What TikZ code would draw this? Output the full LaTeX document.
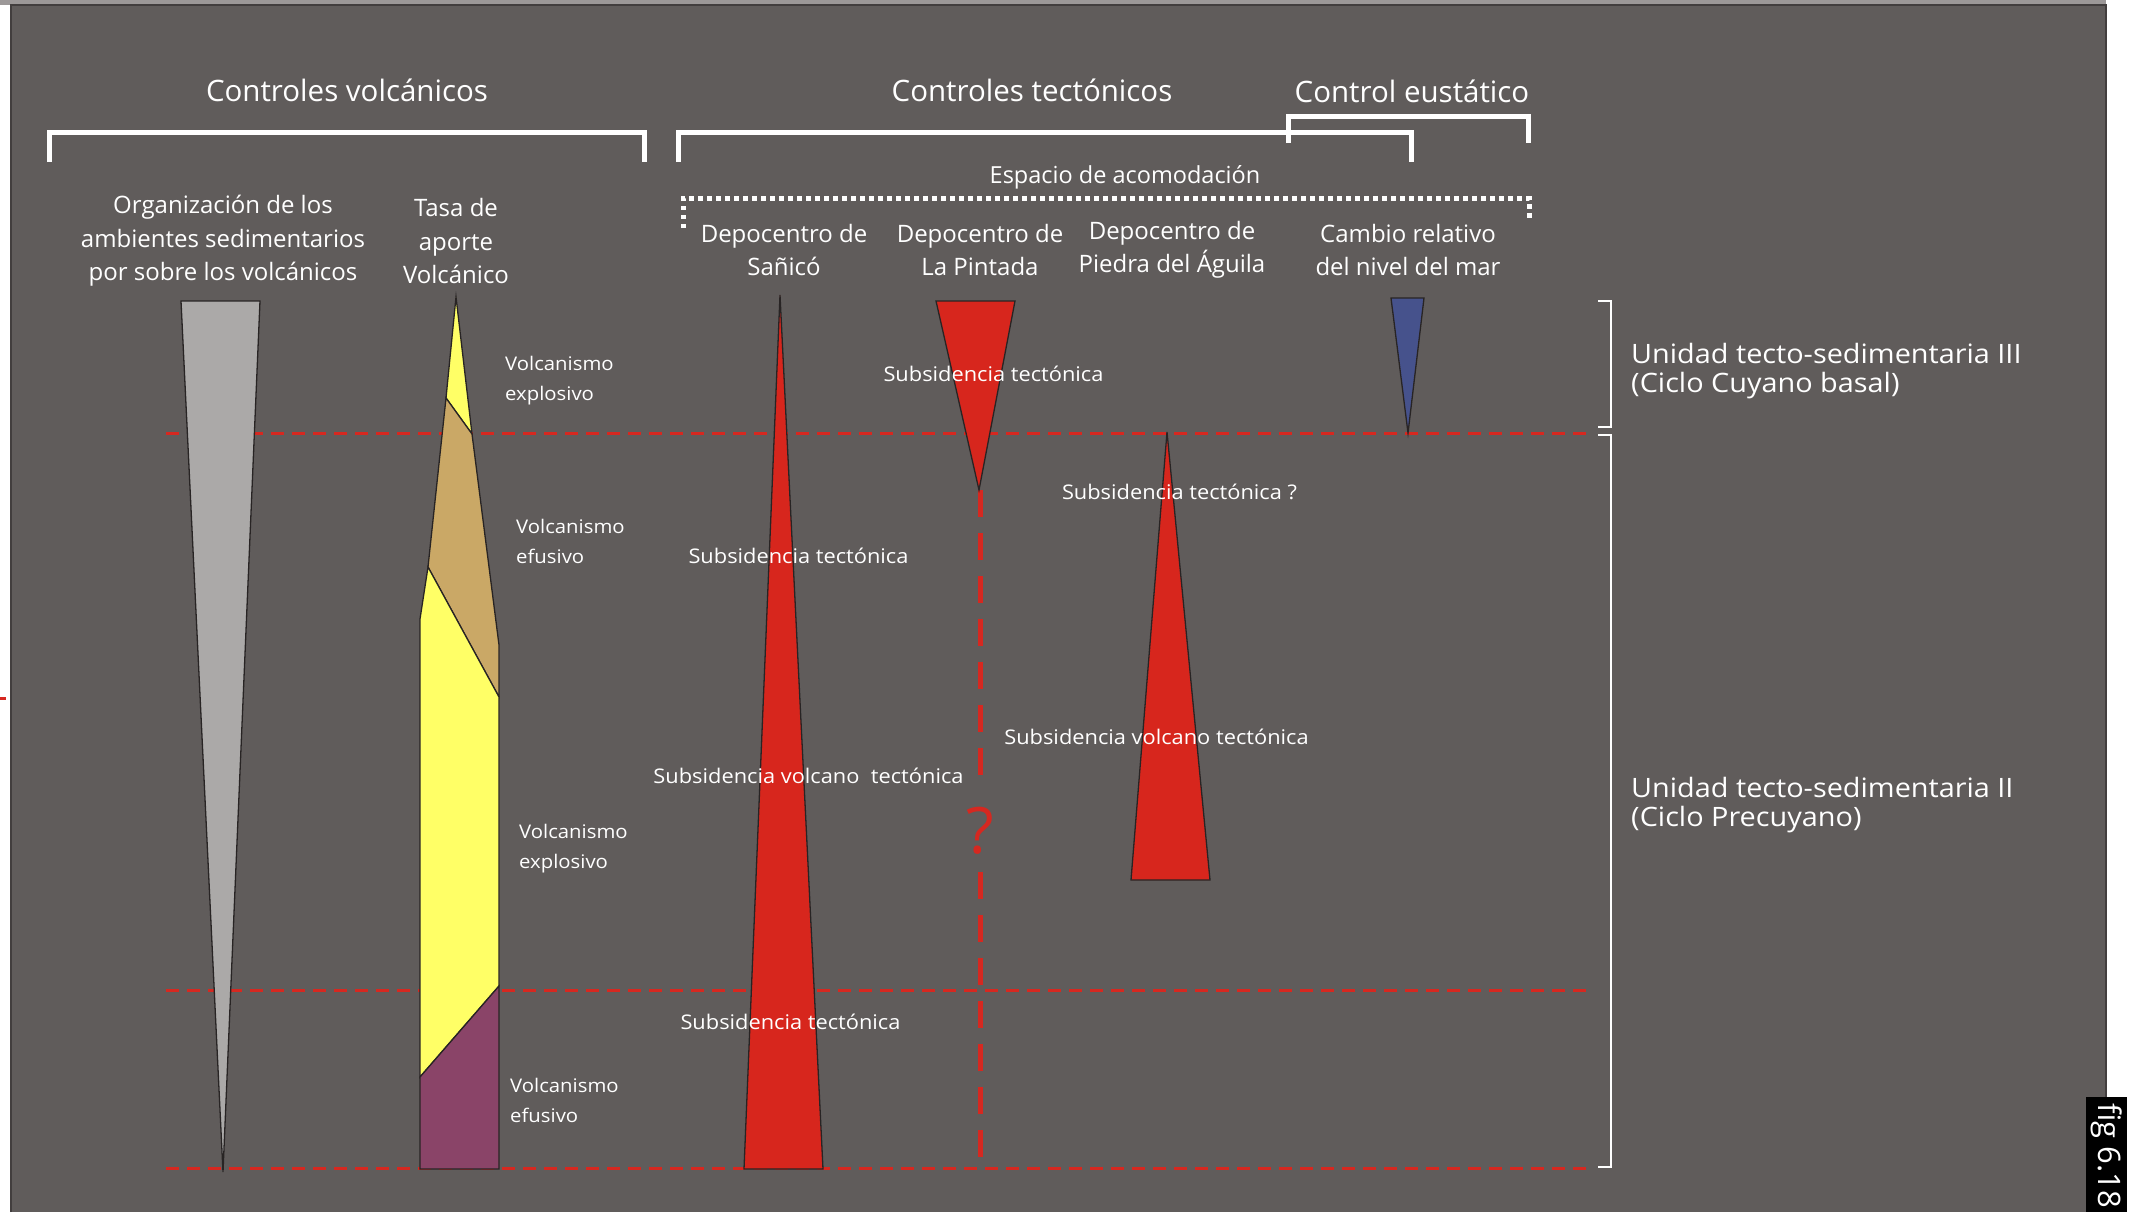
\documentclass[tikz,border=0pt]{standalone}
\usepackage{fontspec}
\setmainfont{Open Sans}
\newfontfamily\widefont[FakeStretch=1.08]{Open Sans}
\definecolor{panel}{RGB}{96,92,91}
\definecolor{panelrim}{RGB}{66,62,62}
\definecolor{topband}{RGB}{156,152,152}
\definecolor{edge}{RGB}{40,36,36}
\definecolor{ashgray}{RGB}{171,169,168}
\definecolor{subred}{RGB}{215,38,29}
\definecolor{guidered}{RGB}{214,40,32}
\definecolor{explo}{RGB}{255,255,102}
\definecolor{efus}{RGB}{202,168,102}
\definecolor{efusold}{RGB}{138,68,104}
\definecolor{sealevel}{RGB}{70,82,140}
\begin{document}
\begin{tikzpicture}[x=1pt,y=-1pt,
  head/.style={text=white,inner sep=0pt,font=\fontsize{29.5}{34}\selectfont},
  colhead/.style={text=white,inner sep=0pt,align=center,font=\fontsize{24}{33.5}\selectfont},
  lbl/.style={text=white,inner sep=0pt,font=\widefont\fontsize{20.2}{30}\selectfont},
  vlbl/.style={text=white,inner sep=0pt,align=left,anchor=west,font=\widefont\fontsize{18.8}{30}\selectfont},
  unit/.style={text=white,inner sep=0pt,align=left,anchor=west,font=\widefont\fontsize{26.7}{29}\selectfont},
  bigbrk/.style={white,line width=5pt},
  unitbrk/.style={white,line width=2.6pt},
  acomod/.style={white,line width=5pt,dash pattern=on 4.5pt off 4.5pt},
  wedge/.style={draw=edge,line width=1.3pt,line join=miter},
  guide/.style={guidered,line width=3pt,dash pattern=on 13pt off 8pt},
  vguide/.style={guidered,line width=5pt,dash pattern=on 27pt off 16pt}]
\useasboundingbox (0,0) rectangle (2135,1212);

% frame of the slide
\fill[topband] (0,0) rectangle (2106,5);
\fill[panel] (11,5) rectangle (2106,1212);
\draw[panelrim,line width=1.5pt] (11,1212) -- (11,5) -- (2106,5) -- (2106,1212);
\draw[guidered,line width=3pt] (0,698) -- (6,698);

% group titles and brackets
\node[head] (tvol) at (347,90) {Controles volcánicos};
\node[head] (ttec) at (1032,90) {Controles tectónicos};
\node[head] (teus) at (1412,91) {Control eustático};
\draw[bigbrk] (49,162) -- (49,133) -- (644,133) -- (644,162);
\draw[bigbrk] (678,162) -- (678,133) -- (1411,133) -- (1411,162);
\draw[bigbrk] (1288,143) -- (1288,117) -- (1528,117) -- (1528,143);

\node[text=white,inner sep=0pt,font=\fontsize{23.5}{28}\selectfont] (tesp) at (1125,177) {Espacio de acomodación};
\draw[acomod] (683,228) -- (683,198) -- (1529,198) -- (1529,222);

% column headings
\node[colhead] (hamb) at (223,241) {Organización de los\\ambientes sedimentarios\\por sobre los volcánicos};
\node[colhead] (htasa) at (456,241) {Tasa de\\aporte\\Volcánico};
\node[colhead] (hsan) at (784,250) {Depocentro de\\Sañicó};
\node[colhead] (hpin) at (980,250) {Depocentro de\\La Pintada};
\node[colhead] (hpie) at (1172,250) {Depocentro de\\Piedra del Águila};
\node[colhead] (hmar) at (1408,250) {Cambio relativo\\del nivel del mar};

% time lines bounding the units
\draw[guide] (166,433) -- (1590,433);
\draw[guide] (166,990) -- (1590,990);
\draw[guide] (166,1168) -- (1590,1168);
\draw[vguide] (980,490) -- (980,780);
\draw[vguide] (980,872) -- (980,1168);

% sedimentary organisation wedge
\path[wedge,fill=ashgray] (181,301) -- (260,301) -- (223,1172) -- cycle;

% volcanic supply column
\path[wedge,fill=explo] (456,297) -- (472,434) -- (446,398) -- cycle;
\path[wedge,fill=efus] (446,398) -- (472,434) -- (499,645) -- (499,697) -- (428,567) -- cycle;
\path[wedge,fill=explo] (428,567) -- (499,697) -- (499,986) -- (420,1077) -- (420,619) -- cycle;
\path[wedge,fill=efusold] (420,1077) -- (499,986) -- (499,1169) -- (420,1169) -- cycle;

% depocentres
\path[wedge,fill=subred] (780,295) -- (823,1169) -- (744,1169) -- cycle;
\path[wedge,fill=subred] (936,301) -- (1015,301) -- (979,490) -- cycle;
\path[wedge,fill=subred] (1167,432) -- (1210,880) -- (1131,880) -- cycle;
\path[wedge,fill=sealevel] (1391,298) -- (1424,298) -- (1408,433) -- cycle;

% volcanic style labels
\node[vlbl] (lv1) at (505,381) {Volcanismo\\explosivo};
\node[vlbl] (lv2) at (516,541) {Volcanismo\\efusivo};
\node[vlbl] (lv3) at (519,849) {Volcanismo\\explosivo};
\node[vlbl] (lv4) at (510,1100) {Volcanismo\\efusivo};

% subsidence labels
\node[lbl] (ls1) at (993.5,374) {Subsidencia tectónica};
\node[lbl] (ls2) at (798.5,556) {Subsidencia tectónica};
\node[lbl] (ls3) at (808.5,776) {Subsidencia volcano\ \ tectónica};
\node[lbl] (ls4) at (790.5,1022) {Subsidencia tectónica};
\node[lbl] (ls5) at (1179.5,492) {Subsidencia tectónica ?};
\node[lbl] (ls6) at (1156.5,737) {Subsidencia volcano tectónica};
\node[text=guidered,inner sep=0pt,font=\fontsize{64}{64}\selectfont] (qmark) at (980,831) {?};

% tecto-sedimentary units
\draw[unitbrk] (1598,301) -- (1611,301) -- (1611,427) -- (1598,427);
\draw[unitbrk] (1598,435) -- (1611,435) -- (1611,1167) -- (1598,1167);
\node[unit] (u3) at (1631,371) {Unidad tecto-sedimentaria III\\(Ciclo Cuyano basal)};
\node[unit] (u2) at (1631,805) {Unidad tecto-sedimentaria II\\(Ciclo Precuyano)};

% figure tag
\fill[black] (2086,1097) rectangle (2127,1212);
\node[text=white,inner sep=0pt,anchor=west,rotate=-90,font=\fontsize{31}{31}\selectfont] (tag) at (2107,1103) {fig 6.18};
\end{tikzpicture}
\end{document}
